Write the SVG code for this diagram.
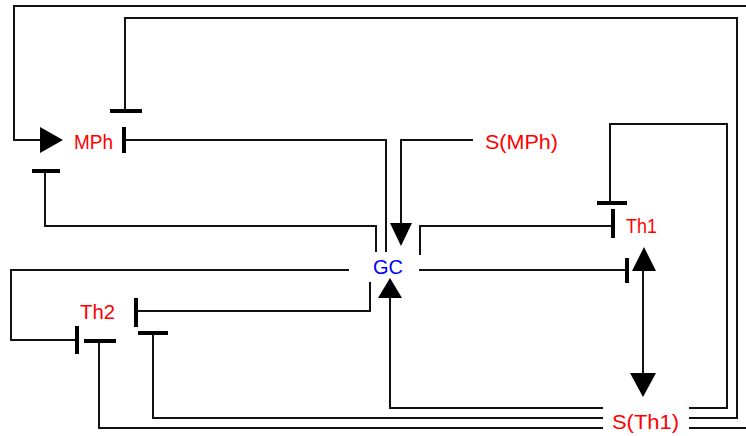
<svg xmlns="http://www.w3.org/2000/svg" width="746" height="436" viewBox="0 0 746 436">
<style>
.ln{fill:none;stroke:#111;stroke-width:2}
.bar{stroke:#000;stroke-width:4}
.ah{fill:#000}
.lbl{font-family:"Liberation Sans",Arial,sans-serif;font-size:20px;fill:#ff0000}
.gc{fill:#0000ff}
</style>
<rect width="746" height="436" fill="#fff"/>
<g id="connectors">
  <!-- S(Th1) -> MPh activation -->
  <polyline class="ln" points="689,428 750,428 750,6 14,6 14,140 42,140"/>
  <polygon class="ah" points="40,127 63,140 40,153"/>
  <!-- S(Th1) -| MPh -->
  <polyline class="ln" points="689,418 737,418 737,18 125,18 125,111"/>
  <line class="bar" x1="110" y1="111" x2="142" y2="111"/>
  <!-- S(Th1) -| Th1 -->
  <polyline class="ln" points="689,408 727,408 727,124 610,124 610,203"/>
  <line class="bar" x1="597" y1="203" x2="627" y2="203"/>
  <!-- S(Th1) -> GC -->
  <polyline class="ln" points="603,408 390,408 390,296"/>
  <polygon class="ah" points="378,298 402,298 390,278"/>
  <!-- S(Th1) -| Th2 -->
  <polyline class="ln" points="603,418 153,418 153,333"/>
  <line class="bar" x1="138" y1="333" x2="168" y2="333"/>
  <polyline class="ln" points="603,428 99,428 99,341"/>
  <line class="bar" x1="84" y1="341" x2="116" y2="341"/>
  <!-- GC -| MPh (below) -->
  <polyline class="ln" points="376,252 376,226 45,226 45,171"/>
  <line class="bar" x1="32" y1="171" x2="60" y2="171"/>
  <!-- GC -| MPh (right) -->
  <polyline class="ln" points="386,252 386,140 124,140"/>
  <line class="bar" x1="124" y1="127" x2="124" y2="153"/>
  <!-- S(MPh) -> GC -->
  <polyline class="ln" points="473,140 401,140 401,225"/>
  <polygon class="ah" points="390,223 412,223 401,246"/>
  <!-- GC -| Th1 -->
  <polyline class="ln" points="420,255 420,226 613,226"/>
  <line class="bar" x1="613" y1="209" x2="613" y2="238"/>
  <polyline class="ln" points="419,270 627,270"/>
  <line class="bar" x1="627" y1="258" x2="627" y2="283"/>
  <!-- Th1 <-> S(Th1) -->
  <line class="ln" x1="643" y1="268" x2="643" y2="375"/>
  <polygon class="ah" points="632,271 656,271 644,247"/>
  <polygon class="ah" points="630,373 656,373 643,397"/>
  <!-- GC -| Th2 (left) -->
  <polyline class="ln" points="349,270 11,270 11,340 77,340"/>
  <line class="bar" x1="77" y1="326" x2="77" y2="354"/>
  <!-- GC -| Th2 (right) -->
  <polyline class="ln" points="370,282 370,311 136,311"/>
  <line class="bar" x1="136" y1="298" x2="136" y2="327"/>
</g>
<g id="node-MPh"><text class="lbl" x="74" y="149" textLength="39" lengthAdjust="spacingAndGlyphs">MPh</text></g>
<g id="node-SMPh"><text class="lbl" x="485" y="149" textLength="73" lengthAdjust="spacingAndGlyphs">S(MPh)</text></g>
<g id="node-Th1"><text class="lbl" x="626" y="233" textLength="31" lengthAdjust="spacingAndGlyphs">Th1</text></g>
<g id="node-GC"><text class="lbl gc" x="373" y="274" textLength="30" lengthAdjust="spacingAndGlyphs">GC</text></g>
<g id="node-Th2"><text class="lbl" x="80" y="319" textLength="35" lengthAdjust="spacingAndGlyphs">Th2</text></g>
<g id="node-STh1"><text class="lbl" x="612" y="429" textLength="67" lengthAdjust="spacingAndGlyphs">S(Th1)</text></g>
</svg>
